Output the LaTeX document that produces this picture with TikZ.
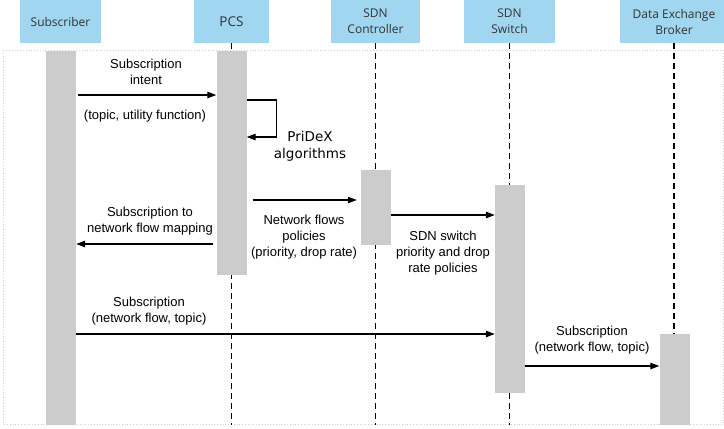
\documentclass[tikz,border=0pt]{standalone}
\usepackage{fontspec}
\usetikzlibrary{arrows.meta,positioning}
\newfontfamily\headfont{Open Sans}
\newfontfamily\msgfont{Liberation Sans}
\newfontfamily\algofont{DejaVu Sans}
\definecolor{headblue}{RGB}{160,214,240}
\definecolor{bargray}{RGB}{204,204,204}
\definecolor{framegray}{RGB}{205,205,205}

\begin{document}
\begin{tikzpicture}[x=1pt,y=-1pt,
    head/.style={rectangle, fill=headblue, minimum height=43pt, inner sep=0pt,
      align=center, text=black!80, font=\headfont\fontsize{12}{16}\selectfont},
    bar/.style={rectangle, fill=bargray, minimum width=30pt, inner sep=0pt},
    life/.style={line width=1.1pt, dash pattern=on 6pt off 4pt},
    msg/.style={line width=1.2pt, -{Triangle[length=9pt,width=6.5pt]}},
    lbl/.style={align=center, inner sep=0pt, font=\msgfont\fontsize{13}{16}\selectfont},
    algo/.style={align=center, inner sep=0pt, font=\algofont\fontsize{13.5}{17}\selectfont}]
    \useasboundingbox (0,0) rectangle (724,429);
    \draw[framegray, dotted, line width=0.8pt] (3,50) rectangle (723,424);

    % lifeline heads
    \node[head, minimum width=81pt]  (subHead)    at (60.5,21.5)  {Subscriber};
    \node[head, minimum width=75pt, font=\headfont\fontsize{13.5}{16}\selectfont]
                                     (pcsHead)    at (231.5,21.5) {PCS};
    \node[head, minimum width=89pt]  (ctrlHead)   at (375.5,21.5) {SDN\\Controller};
    \node[head, minimum width=91pt]  (swHead)     at (509.5,21.5) {SDN\\Switch};
    \node[head, minimum width=108pt] (brokerHead) at (674,21.5)   {Data Exchange\\Broker};

    \foreach \h in {pcsHead,ctrlHead,swHead,brokerHead}
        \draw[life] (\h.south) -- (\h.south |- 0,425);

    % activation bars
    \node[bar, minimum height=374pt] (subBar)    at (61,238)    {};
    \node[bar, minimum height=224pt] (pcsBar)    at (231.5,163) {};
    \node[bar, minimum height=75pt]  (ctrlBar)   at (376,207.5) {};
    \node[bar, minimum height=208pt] (swBar)     at (510,289)   {};
    \node[bar, minimum height=91pt]  (brokerBar) at (674.5,379.5) {};

    % messages
    \draw[msg, shorten <=2pt] (subBar.east |- 0,95) -- (pcsBar.west |- 0,95);
    \draw[msg] (pcsBar.east |- 0,100) -- ++(30,0) -- ++(0,37) -- (pcsBar.east |- 0,137);
    \draw[msg, shorten <=6pt, shorten >=4pt] (pcsBar.east |- 0,200) -- (ctrlBar.west |- 0,200);
    \draw[msg, shorten <=3pt] (pcsBar.west |- 0,244) -- (subBar.east |- 0,244);
    \draw[msg] (ctrlBar.east |- 0,215) -- (swBar.west |- 0,215);
    \draw[msg] (subBar.east |- 0,334) -- (swBar.west |- 0,334);
    \draw[msg] (swBar.east |- 0,366) -- (brokerBar.west |- 0,366);

    % labels
    \node[lbl]  (lblIntent) at (146,72)  {Subscription\\intent};
    \node[lbl]  (lblTopic)  at (145,116) {(topic, utility function)};
    \node[algo] (lblAlgo)   at (310,146) {PriDeX\\algorithms};
    \node[lbl]  (lblMap)    at (150,221) {Subscription to\\network flow mapping};
    \node[lbl]  (lblFlows)  at (304,237) {Network flows\\policies\\(priority, drop rate)};
    \node[lbl]  (lblSw)     at (443,253) {SDN switch\\priority and drop\\rate policies};
    \node[lbl]  (lblSub)    at (149,311) {Subscription\\(network flow, topic)};
    \node[lbl]  (lblSubB)   at (592,340) {Subscription\\(network flow, topic)};
\end{tikzpicture}
\end{document}
